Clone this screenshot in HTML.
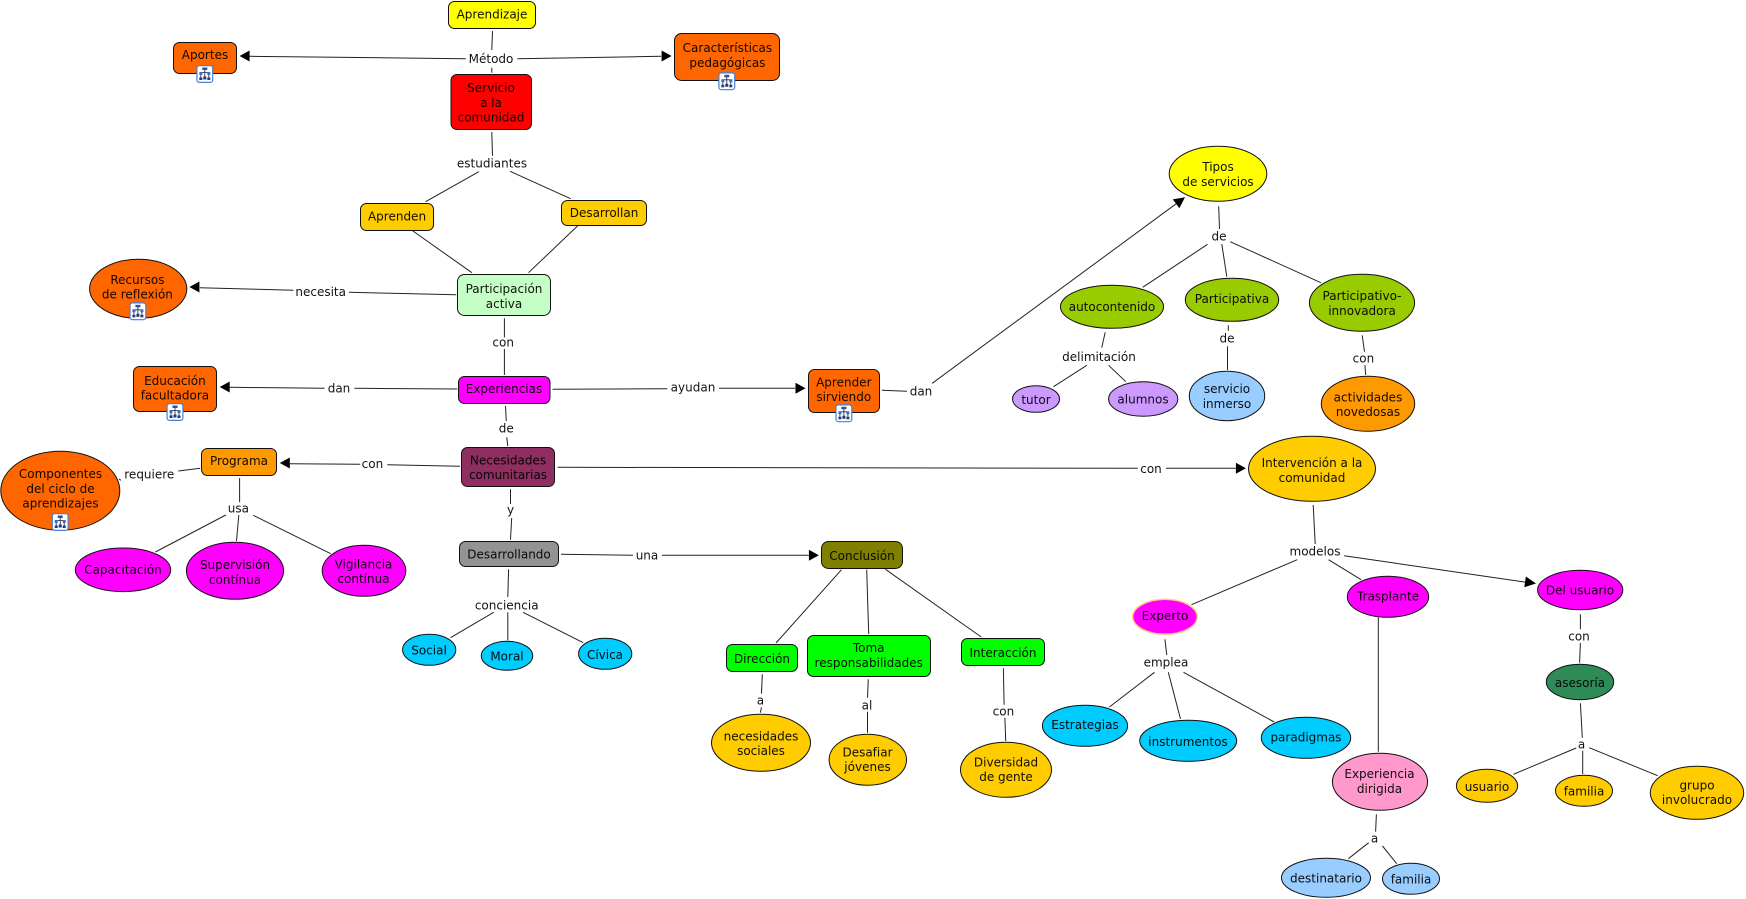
<!DOCTYPE html>
<html lang="es">
<head>
<meta charset="utf-8">
<title>Servicio a la comunidad</title>
<style>
html,body{margin:0;padding:0;background:#fff;width:1746px;height:899px;overflow:hidden}
svg{display:block;filter:blur(.35px)}
text{font-family:"DejaVu Sans","Liberation Sans",sans-serif;font-size:12px;text-anchor:middle;fill:#000;fill-opacity:.93}
.n{stroke:#111;stroke-width:1}
</style>
</head>
<body>
<svg xmlns="http://www.w3.org/2000/svg" width="1746" height="899" viewBox="0 0 1746 899">
<defs>
<g id="ic">
<rect x=".6" y=".6" width="15.8" height="16.8" rx="2.5" fill="#fff" stroke="#4a7fcf" stroke-width="1.2"/>
<path d="M8.5 3V14M4.5 8V14M12.5 8V14M4.5 7.5H12.5" fill="none" stroke="#223" stroke-width=".8"/>
<rect x="6" y="2.5" width="5" height="2.5" fill="#2f4fa8"/>
<rect x="3" y="7" width="3" height="3" fill="#3a6fc8"/>
<rect x="11" y="7" width="3" height="3" fill="#3a6fc8"/>
<rect x="3" y="12.5" width="3" height="2.5" fill="#223a80"/>
<rect x="7" y="11.5" width="3" height="3" fill="#223a80"/>
<rect x="11" y="12.5" width="3" height="2.5" fill="#223a80"/>
</g>
</defs>

<!-- connectors -->
<path fill="none" stroke="#222" stroke-width="1" d="
M492.5 31L491.8 50M491.8 67.7L491.8 72.7
M465.7 58.7L249.5 56.3M517.4 58.7L661.2 56.3
M491.8 132L492.5 155.7M478.8 171.7L425.6 201.7M510.1 171.3L570.6 198.7
M412.9 231L471.9 272.7M577.5 226L528.5 272.7
M456.2 294.7L349 292.3M293.5 290.3L199.8 287.7
M504.4 318.3L504.4 337.3M504.4 349L504.4 375
M457.3 389L354.4 388.3M324.5 388.3L229.6 387.3
M505.5 406L506.3 421M506.7 437.3L507.8 446
M552.6 389.3L667.4 388.7M719 388.3L795.2 388.3
M882 390.3L906.9 391.3M932.2 383.3L1176.1 203.8
M1105.2 332.3L1101.7 347.7M1086.8 365.3L1053.5 386.7M1108.6 365.3L1125.8 381.7
M1218.7 206.3L1219.5 229M1207.6 244.3L1142.7 287.3M1221.8 244L1226.8 276.7M1230.2 241.7L1320.9 282.7
M1228.3 325.3L1228.3 330.7M1227.5 346.3L1227.5 370
M1362.2 335.3L1364.5 351.7M1364.9 365L1365.7 375
M200.1 468.3L178.3 471M120.9 480.3L119 479
M460 466.3L387.3 464.7M360.1 464.3L289.7 463.7
M239.6 478L239.6 502.3M225.8 515L155.4 552M238.8 515L236.5 541M253.3 515.3L330.7 553.7
M510.5 489.3L510.5 504M511.7 518L510.5 539.7
M508.6 569.3L507.8 597M493.7 612.3L450.5 637.7M507.8 612.3L507.8 640.3M523.1 612.3L583.2 642.7
M557.6 467.3L1137.7 468.3M1166 468.3L1235.9 468.3
M561 554.3L632.9 555.3M662 555.3L808.6 555.3
M841.5 569.7L776 643M866.7 569.7L868.7 634M885.5 569.3L981.2 637
M762.3 674.3L761.5 693.7M761.5 707.3L760.3 712.7
M868.3 679.3L867.5 697.7M867.5 711.7L867.5 732.7
M1003.4 668.3L1004.1 704.7M1004.9 717.7L1005.7 741
M1313.2 505L1315.2 544M1297.2 559.7L1191.5 604.7M1328.5 559.7L1361.1 579.7M1344.2 555.7L1526 582.3
M1580.4 614.3L1580.4 629.3M1580.4 643L1579.6 662.7M1580.4 703.3L1582.3 737.7
M1576.2 748L1513.4 774.3M1582.7 750.7L1582.7 774M1589.2 747.7L1657.7 775.7
M1378.3 617.3L1378.3 751.7M1376.4 814.3L1375.6 831.7M1368.7 842.7L1348.4 858.7M1382.5 846L1396.7 863.7
M1164.9 639.3L1166.8 655M1154.5 672.3L1109.4 707M1168.3 672.3L1180.5 719M1183.5 672.3L1274.2 722"/>

<!-- arrowheads -->
<g fill="#000">
<polygon points="239.6,56 249.6,50.5 249.6,61.5"/>
<polygon points="671.6,56 661.6,50.5 661.6,61.5"/>
<polygon points="189.4,287 199.4,281.5 199.4,292.5"/>
<polygon points="219.7,387 229.7,381.5 229.7,392.5"/>
<polygon points="805.5,388.3 795.5,382.8 795.5,393.8"/>
<polygon points="1185,197.3 1179.4,208.2 1172.8,199.4"/>
<polygon points="279.8,463 289.8,457.5 289.8,468.5"/>
<polygon points="1245.9,468.3 1235.9,462.8 1235.9,473.8"/>
<polygon points="818.9,555.3 808.9,549.8 808.9,560.8"/>
<polygon points="1536,583.5 1524.3,587.3 1525.9,576.5"/>
</g>

<!-- rounded concept nodes -->
<g class="n">
<rect x="448.5" y="1.5" width="87" height="27" rx="6" fill="#ffff00"/>
<rect x="173.5" y="42.5" width="63" height="31" rx="6" fill="#ff6600"/>
<rect x="451" y="74.5" width="80.5" height="55" rx="6" fill="#ff0000"/>
<rect x="360.5" y="203.5" width="73" height="27" rx="6" fill="#ffcc00"/>
<rect x="561.5" y="200.5" width="85" height="25" rx="6" fill="#ffcc00"/>
<rect x="457.5" y="274.5" width="93" height="41" rx="7" fill="#c6ffc6"/>
<rect x="133.5" y="366.5" width="83" height="45" rx="6" fill="#ff6600"/>
<rect x="458.5" y="376.5" width="91.5" height="27" rx="6" fill="#ff00ff"/>
<rect x="674.5" y="33.5" width="105" height="47" rx="7" fill="#ff6600"/>
<rect x="808.5" y="369.5" width="71" height="43" rx="6" fill="#ff6600"/>
<rect x="201.5" y="448.5" width="75" height="27" rx="6" fill="#ff9900"/>
<rect x="461.5" y="447.5" width="93" height="39" rx="6" fill="#8e2f60"/>
<rect x="459.5" y="541.5" width="99" height="25" rx="6" fill="#939393"/>
<rect x="821.5" y="541.5" width="81" height="27" rx="7" fill="#808000"/>
<rect x="726.5" y="644.5" width="71" height="27" rx="6" fill="#00ff00"/>
<rect x="807.5" y="635.5" width="123" height="41" rx="6" fill="#00ff00"/>
<rect x="961.5" y="638.5" width="83" height="27" rx="6" fill="#00ff00"/>
</g>

<!-- elliptical concept nodes -->
<g class="n">
<ellipse cx="138.2" cy="288.8" rx="48.6" ry="29.5" fill="#ff6600"/>
<ellipse cx="60.3" cy="490.7" rx="59.5" ry="39.5" fill="#ff6600"/>
<ellipse cx="123" cy="569.8" rx="47.7" ry="21.8" fill="#ff00ff"/>
<ellipse cx="235" cy="570.8" rx="48.6" ry="28.5" fill="#ff00ff"/>
<ellipse cx="364" cy="570.8" rx="41.8" ry="25.5" fill="#ff00ff"/>
<ellipse cx="429.2" cy="649.8" rx="26.6" ry="15.5" fill="#00ccff"/>
<ellipse cx="507" cy="655.8" rx="25.7" ry="14.5" fill="#00ccff"/>
<ellipse cx="605.2" cy="653.8" rx="26.6" ry="15.5" fill="#00ccff"/>
<ellipse cx="761" cy="742.8" rx="49.5" ry="28.5" fill="#ffcc00"/>
<ellipse cx="867.8" cy="759.8" rx="38.7" ry="25.5" fill="#ffcc00"/>
<ellipse cx="1006" cy="769.8" rx="45.5" ry="27.5" fill="#ffcc00"/>
<ellipse cx="1165" cy="616.8" rx="32.3" ry="17.5" fill="#ff00ff" stroke="#ffd080" stroke-width="1.5"/>
<ellipse cx="1085" cy="725.8" rx="42.6" ry="20.5" fill="#00ccff"/>
<ellipse cx="1188.2" cy="740.8" rx="48.5" ry="20.5" fill="#00ccff"/>
<ellipse cx="1306" cy="737.8" rx="44.7" ry="20.5" fill="#00ccff"/>
<ellipse cx="1388" cy="596.8" rx="40.7" ry="20.5" fill="#ff00ff"/>
<ellipse cx="1580.2" cy="590" rx="42.6" ry="19.7" fill="#ff00ff"/>
<ellipse cx="1580" cy="682" rx="33.7" ry="17.7" fill="#2e8b57"/>
<ellipse cx="1380" cy="781.8" rx="47.6" ry="28.5" fill="#ff99cc"/>
<ellipse cx="1487" cy="785.8" rx="30.6" ry="16.5" fill="#ffcc00"/>
<ellipse cx="1584" cy="790.8" rx="28.5" ry="15.5" fill="#ffcc00"/>
<ellipse cx="1697" cy="792.8" rx="46.7" ry="26.5" fill="#ffcc00"/>
<ellipse cx="1326" cy="877.8" rx="44.5" ry="19.5" fill="#99ccff"/>
<ellipse cx="1411" cy="878.8" rx="28.5" ry="15.5" fill="#99ccff"/>
<ellipse cx="1312" cy="468.8" rx="63.5" ry="32.5" fill="#ffcc00"/>
<ellipse cx="1112" cy="306.8" rx="51.6" ry="21.5" fill="#99cc00"/>
<ellipse cx="1036" cy="399" rx="23.5" ry="13.3" fill="#cc99ff"/>
<ellipse cx="1143.2" cy="399" rx="34.6" ry="17.3" fill="#cc99ff"/>
<ellipse cx="1218" cy="173.8" rx="48.8" ry="27.5" fill="#ffff00"/>
<ellipse cx="1232" cy="299.8" rx="46.7" ry="21.5" fill="#99cc00"/>
<ellipse cx="1362" cy="302.8" rx="52.6" ry="28.5" fill="#99cc00"/>
<ellipse cx="1227" cy="396" rx="37.7" ry="24.7" fill="#99ccff"/>
<ellipse cx="1368" cy="403.8" rx="46.7" ry="27.5" fill="#ff9900"/>
</g>

<!-- sub-map icons -->
<use href="#ic" x="196.3" y="65"/>
<use href="#ic" x="129.4" y="302.3"/>
<use href="#ic" x="166.5" y="403"/>
<use href="#ic" x="718.3" y="72.3"/>
<use href="#ic" x="835.4" y="404.3"/>
<use href="#ic" x="51.7" y="513"/>

<!-- concept labels -->
<text x="492" y="18.5">Aprendizaje</text>
<text x="205" y="58.8">Aportes</text>
<text x="491" y="92.2">Servicio</text>
<text x="491" y="106.8">a la</text>
<text x="491" y="121.5">comunidad</text>
<text x="397" y="220.5">Aprenden</text>
<text x="604" y="217.2">Desarrollan</text>
<text x="504" y="293.2">Participación</text>
<text x="504" y="307.8">activa</text>
<text x="504" y="393.2">Experiencias</text>
<text x="508" y="464.5">Necesidades</text>
<text x="508" y="479.2">comunitarias</text>
<text x="239" y="465.2">Programa</text>
<text x="123" y="574.2">Capacitación</text>
<text x="235" y="569.2">Supervisión</text>
<text x="235" y="583.8">contínua</text>
<text x="363.5" y="568.5">Vigilancia</text>
<text x="363.5" y="583.2">contínua</text>
<text x="509" y="558.5">Desarrollando</text>
<text x="429" y="654.5">Social</text>
<text x="507" y="660.5">Moral</text>
<text x="605" y="659.2">Cívica</text>
<text x="862" y="560.2">Conclusión</text>
<text x="762" y="663.2">Dirección</text>
<text x="868.7" y="652.2">Toma</text>
<text x="868.7" y="666.8">responsabilidades</text>
<text x="1003" y="657.2">Interacción</text>
<text x="761" y="740.5">necesidades</text>
<text x="761" y="755.2">sociales</text>
<text x="867.5" y="756.5">Desafiar</text>
<text x="867.5" y="771.2">jóvenes</text>
<text x="1006" y="766.5">Diversidad</text>
<text x="1006" y="781.2">de gente</text>
<text x="1165" y="620.2">Experto</text>
<text x="1085" y="729.2">Estrategias</text>
<text x="1188" y="745.8">instrumentos</text>
<text x="1306" y="741.5">paradigmas</text>
<text x="1388" y="600.5">Trasplante</text>
<text x="1580" y="594.5">Del usuario</text>
<text x="1580" y="687.2">asesoría</text>
<text x="1379.5" y="778.2">Experiencia</text>
<text x="1379.5" y="792.8">dirigida</text>
<text x="1487" y="791.2">usuario</text>
<text x="1584" y="795.5">familia</text>
<text x="1697" y="789.5">grupo</text>
<text x="1697" y="803.8">involucrado</text>
<text x="1326" y="882.5">destinatario</text>
<text x="1411" y="883.5">familia</text>
<text x="1312" y="467.2">Intervención a la</text>
<text x="1312" y="481.8">comunidad</text>
<text x="1112" y="311.2">autocontenido</text>
<text x="1036" y="403.8">tutor</text>
<text x="1143" y="403.5">alumnos</text>
<text x="1218" y="171.2">Tipos</text>
<text x="1218" y="185.8">de servicios</text>
<text x="1232" y="303.2">Participativa</text>
<text x="1362" y="300.2">Participativo-</text>
<text x="1362" y="314.8">innovadora</text>
<text x="1227" y="393.2">servicio</text>
<text x="1227" y="407.8">inmerso</text>
<text x="1368" y="401.5">actividades</text>
<text x="1368" y="416.2">novedosas</text>
<text x="727.4" y="52.2">Características</text>
<text x="727.4" y="66.8">pedagógicas</text>
<text x="843.8" y="386.5">Aprender</text>
<text x="843.8" y="401.2">sirviendo</text>
<text x="60.5" y="478.2">Componentes</text>
<text x="60.5" y="492.8">del ciclo de</text>
<text x="60.5" y="507.5">aprendizajes</text>
<text x="137.4" y="284.2">Recursos</text>
<text x="137.4" y="298.5">de reflexión</text>
<text x="174.9" y="384.8">Educación</text>
<text x="174.9" y="399.5">facultadora</text>

<!-- linking phrases -->
<text x="491" y="63.2">Método</text>
<text x="492" y="167.5">estudiantes</text>
<text x="320.7" y="296.2">necesita</text>
<text x="503.2" y="346.5">con</text>
<text x="339" y="392.5">dan</text>
<text x="506.3" y="432.5">de</text>
<text x="693" y="391.5">ayudan</text>
<text x="921" y="395.5">dan</text>
<text x="1099" y="361.2">delimitación</text>
<text x="1219" y="240.5">de</text>
<text x="1227" y="342.5">de</text>
<text x="1363.4" y="362.5">con</text>
<text x="149.3" y="478.5">requiere</text>
<text x="372.4" y="468.2">con</text>
<text x="238.4" y="512.5">usa</text>
<text x="510.5" y="513.8">y</text>
<text x="506.7" y="609.5">conciencia</text>
<text x="647" y="559.5">una</text>
<text x="1151" y="472.8">con</text>
<text x="760.4" y="704.5">a</text>
<text x="867" y="709.5">al</text>
<text x="1003.4" y="715.5">con</text>
<text x="1166" y="666.5">emplea</text>
<text x="1315" y="555.5">modelos</text>
<text x="1579" y="640.5">con</text>
<text x="1581.5" y="748.5">a</text>
<text x="1374.5" y="842.5">a</text>
</svg>
</body>
</html>
